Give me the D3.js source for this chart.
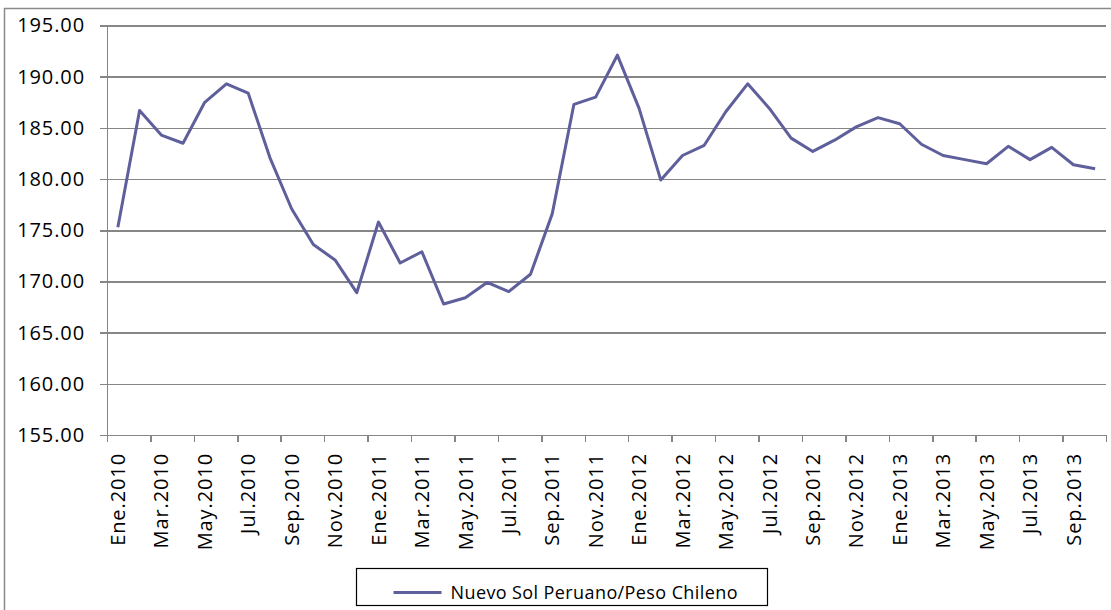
<!DOCTYPE html>
<html>
<head>
<meta charset="utf-8">
<script src="https://d3js.org/d3.v7.min.js"></script>
<style>
    body { margin: 0; background: #fff; }
    svg text { font-family: 'Open Sans', sans-serif; fill: #000; }
    .g-axis path, .g-axis line { stroke: #868686; stroke-width: 1.5; shape-rendering: crispEdges; }
    .g-grid line { stroke: #868686; stroke-width: 1.5; shape-rendering: crispEdges; }
    .g-grid path { display: none; }
    .series-line { fill: none; stroke: #5e5f9b; stroke-width: 3; stroke-linejoin: round; }
</style>
</head>
<body>
<svg id="chart" width="1111" height="610"></svg>
<script>
    // month names as in the source (Spanish)
    const monthNames = ["Ene", "Feb", "Mar", "Abr", "May", "Jun", "Jul", "Ago", "Sep", "Oct", "Nov", "Dic"];
    const years = [2010, 2011, 2012, 2013];
    const seriesName = "Nuevo Sol Peruano/Peso Chileno";
    const yTicks = [155, 160, 165, 170, 175, 180, 185, 190, 195];

    // monthly values, Ene.2010 .. Oct.2013
    const values2010 = [175.3, 186.7, 184.3, 183.5, 187.5, 189.3, 188.4, 182.1, 177.1, 173.6, 172.1, 168.9];
    const values2011 = [175.8, 171.8, 172.9, 167.8, 168.4, 169.9, 169.0, 170.7, 176.6, 187.3, 188.0, 192.1];
    const values2012 = [186.9, 179.9, 182.3, 183.3, 186.6, 189.3, 186.9, 184.0, 182.7, 183.8, 185.1, 186.0];
    const values2013 = [185.4, 183.4, 182.3, 181.9, 181.5, 183.2, 181.9, 183.1, 181.4, 181.0];

    const allValues = [].concat(values2010, values2011, values2012, values2013);
    const categories = [];
    years.forEach(yr => monthNames.forEach(m => categories.push(m + "." + yr)));
    const data = allValues.map((v, i) => ({ k: categories[i], v: v }));
    const shownLabels = categories.slice(0, data.length).filter((c, i) => i % 2 == 0);

    const margin = { left: 107, top: 25.5, right: 1106, bottom: 435 };
    const svg = d3.select("#chart");

    // outer chart border
    svg.append("rect")
        .attr("x", 4.5).attr("y", 8.5)
        .attr("width", 1200).attr("height", 700)
        .attr("fill", "none").attr("stroke", "#8a8a8a").attr("stroke-width", 1.5);

    let xScale = d3.scaleBand()
        .domain(data.map(d => d.k))
        .range([margin.left, margin.right])
        .padding(0);
    let xEdge = d3.scaleLinear()
        .domain([0, data.length])
        .range([margin.left, margin.right]);
    let yScale = d3.scaleLinear()
        .domain([155, 195])
        .range([margin.bottom, margin.top]);

    // horizontal gridlines
    svg.append("g").attr("class", "g-grid")
        .attr("transform", `translate(${margin.left},0)`)
        .call(d3.axisLeft(yScale).tickValues(yTicks).tickSize(-(margin.right - margin.left)).tickFormat(""));

    // y axis
    let yAxis = svg.append("g").attr("class", "g-axis")
        .attr("transform", `translate(${margin.left},0)`)
        .call(d3.axisLeft(yScale).tickValues(yTicks).tickSize(7).tickSizeOuter(0).tickPadding(15)
            .tickFormat(d3.format(".2f")));
    yAxis.selectAll("text")
        .style("font-size", "20px").style("letter-spacing", "0.9px");

    // x axis: tick marks at category boundaries
    svg.append("g").attr("class", "g-axis")
        .attr("transform", `translate(0,${margin.bottom})`)
        .call(d3.axisBottom(xEdge).tickValues(d3.range(0, data.length + 1, 2)).tickSize(7).tickSizeOuter(0).tickFormat(""));

    // x labels at category centers, rotated
    let xLab = svg.append("g")
        .attr("transform", `translate(0,${margin.bottom})`)
        .call(d3.axisBottom(xScale).tickValues(shownLabels).tickSize(0));
    xLab.select(".domain").remove();
    xLab.selectAll("text")
        .attr("transform", "rotate(-90)")
        .attr("x", -18).attr("y", 0).attr("dy", "0.36em")
        .attr("text-anchor", "end")
        .style("font-size", "20px").style("letter-spacing", "0.9px");

    // series line
    let lineGen = d3.line()
        .x(d => xScale(d.k) + xScale.bandwidth() / 2)
        .y(d => yScale(d.v));
    svg.append("path").attr("class", "series-line")
        .datum(data)
        .attr("d", lineGen);

    // legend
    let legend = svg.append("g").attr("class", "g-legend").attr("transform", "translate(356.5,568.5)");
    legend.append("rect")
        .attr("width", 411).attr("height", 37)
        .attr("fill", "#fff").attr("stroke", "#000").attr("stroke-width", 1.2);
    legend.append("line")
        .attr("x1", 37).attr("x2", 85).attr("y1", 24).attr("y2", 24)
        .attr("stroke", "#5e5f9b").attr("stroke-width", 3);
    legend.append("text")
        .attr("x", 94).attr("y", 30)
        .style("font-size", "18px").style("letter-spacing", "0.4px")
        .text(seriesName);
</script>
</body>
</html>
